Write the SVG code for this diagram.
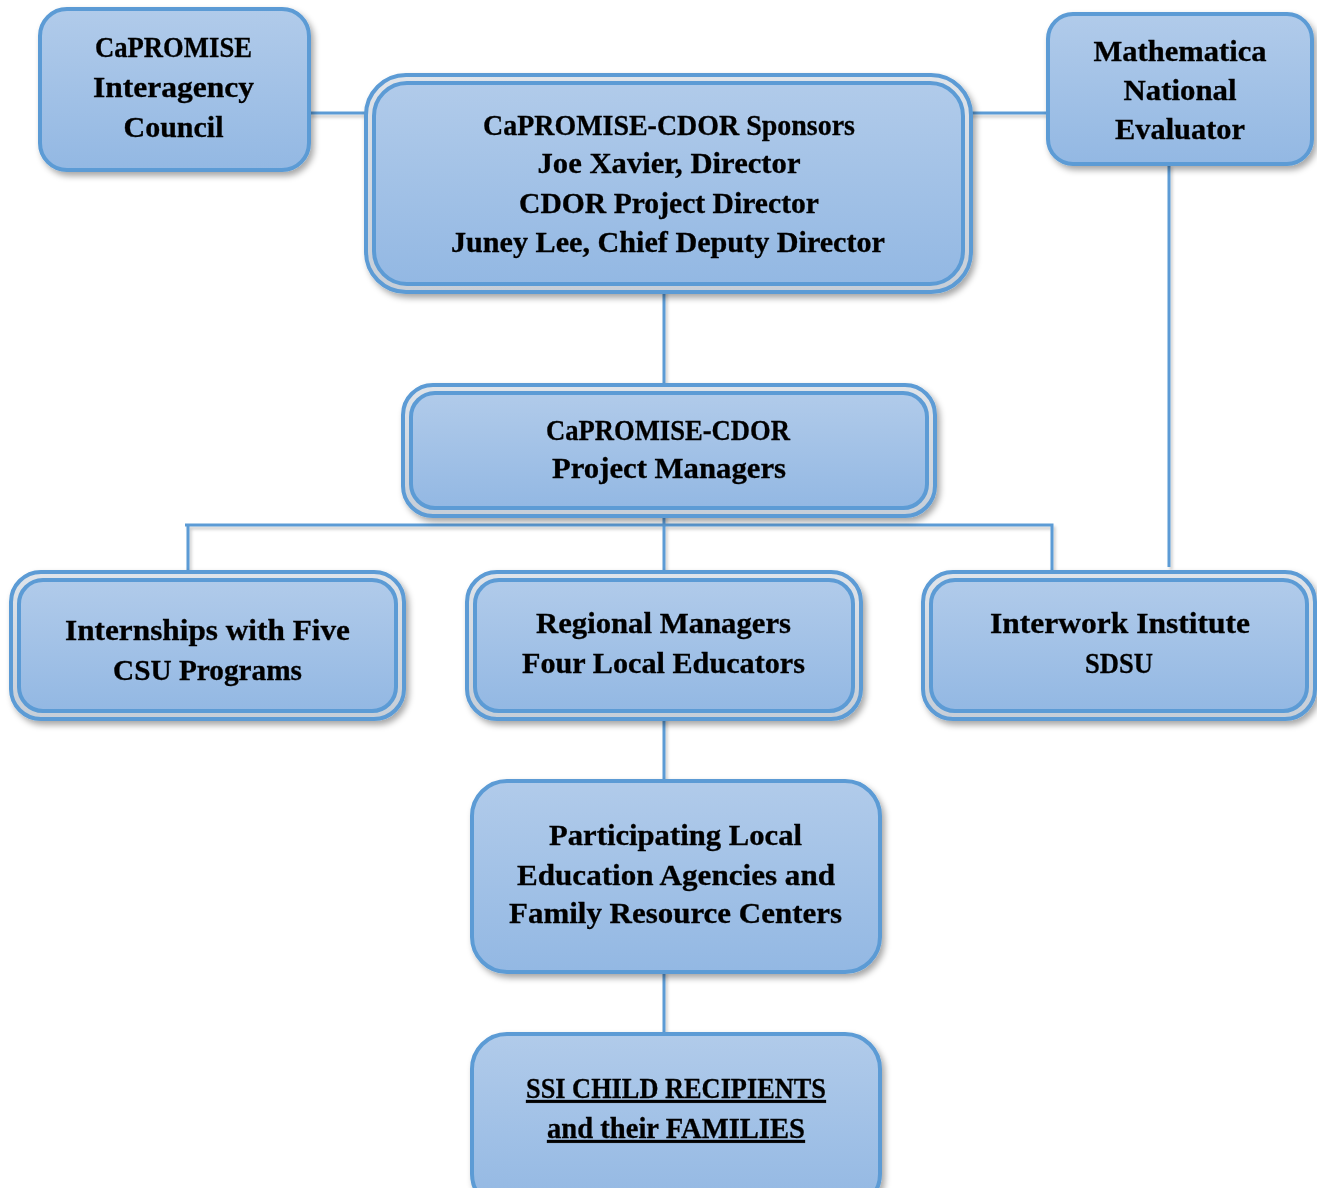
<svg xmlns="http://www.w3.org/2000/svg" width="1317" height="1188" viewBox="0 0 1317 1188">
<defs>
<linearGradient id="g" x1="0" y1="0" x2="0" y2="1">
<stop offset="0" stop-color="#b1cbea"/>
<stop offset="1" stop-color="#93b8e3"/>
</linearGradient>
<linearGradient id="gap" x1="0" y1="0" x2="0" y2="1">
<stop offset="0" stop-color="#dfe4ea"/>
<stop offset="1" stop-color="#c6ced8"/>
</linearGradient>
<filter id="sh" x="-10%" y="-10%" width="125%" height="130%">
<feDropShadow dx="3" dy="4" stdDeviation="3" flood-color="#000" flood-opacity="0.35"/>
</filter>
<filter id="lsh" x="-5%" y="-5%" width="115%" height="115%">
<feDropShadow dx="2" dy="3" stdDeviation="1.5" flood-color="#000" flood-opacity="0.2"/>
</filter>
</defs>
<style>
.box{fill:url(#g);stroke:#5b9bd5;stroke-width:4}
.outer{fill:url(#gap);stroke:#5b9bd5;stroke-width:4}
.t{font-family:"Liberation Serif","Times New Roman",serif;font-weight:bold;font-size:29px;fill:#000;stroke:#000;stroke-width:0.3;text-anchor:middle}
.c{fill:none;stroke:#5b9bd5;stroke-width:3}
</style>
<rect width="1317" height="1188" fill="#fff"/>
<g id="connectors" filter="url(#lsh)">
<path class="c" d="M309,113 H368"/>
<path class="c" d="M969,113 H1048"/>
<path class="c" d="M664,290 V387"/>
<path class="c" d="M664,514 V574"/>
<path class="c" d="M185,525 H1052 V574"/>
<path class="c" d="M188,525 V574"/>
<path class="c" d="M1169,164 V567"/>
<path class="c" d="M664,717 V782"/>
<path class="c" d="M664,971 V1035"/>
</g>
<g id="council" filter="url(#sh)">
<rect class="box" x="40" y="9" width="269" height="161" rx="27"/>
<text class="t" x="173.5" y="57" textLength="157" lengthAdjust="spacingAndGlyphs">CaPROMISE</text>
<text class="t" x="173.5" y="97" textLength="161" lengthAdjust="spacingAndGlyphs">Interagency</text>
<text class="t" x="173.5" y="137" textLength="100" lengthAdjust="spacingAndGlyphs">Council</text>
</g>
<g id="sponsors" filter="url(#sh)">
<rect class="outer" x="366" y="75" width="605" height="217" rx="40"/>
<rect class="box" x="374" y="83" width="589" height="201" rx="33"/>
<text class="t" x="669" y="135" textLength="372" lengthAdjust="spacingAndGlyphs">CaPROMISE-CDOR Sponsors</text>
<text class="t" x="669" y="173" textLength="263" lengthAdjust="spacingAndGlyphs">Joe Xavier, Director</text>
<text class="t" x="669" y="213" textLength="300" lengthAdjust="spacingAndGlyphs">CDOR Project Director</text>
<text class="t" x="668" y="252" textLength="434" lengthAdjust="spacingAndGlyphs">Juney Lee, Chief Deputy Director</text>
</g>
<g id="mathematica" filter="url(#sh)">
<rect class="box" x="1048" y="14" width="264" height="150" rx="25"/>
<text class="t" x="1180" y="61" textLength="173" lengthAdjust="spacingAndGlyphs">Mathematica</text>
<text class="t" x="1180" y="100" textLength="113" lengthAdjust="spacingAndGlyphs">National</text>
<text class="t" x="1180" y="139" textLength="130" lengthAdjust="spacingAndGlyphs">Evaluator</text>
</g>
<g id="project-managers" filter="url(#sh)">
<rect class="outer" x="403" y="385" width="532" height="131" rx="30"/>
<rect class="box" x="411" y="393" width="516" height="115" rx="24"/>
<text class="t" x="668" y="440" textLength="244" lengthAdjust="spacingAndGlyphs">CaPROMISE-CDOR</text>
<text class="t" x="669" y="478" textLength="234" lengthAdjust="spacingAndGlyphs">Project Managers</text>
</g>
<g id="internships" filter="url(#sh)">
<rect class="outer" x="11" y="572" width="393" height="147" rx="30"/>
<rect class="box" x="19" y="580" width="377" height="131" rx="24"/>
<text class="t" x="207.5" y="640" textLength="285" lengthAdjust="spacingAndGlyphs">Internships with Five</text>
<text class="t" x="207.5" y="680" textLength="189" lengthAdjust="spacingAndGlyphs">CSU Programs</text>
</g>
<g id="regional" filter="url(#sh)">
<rect class="outer" x="467" y="572" width="394" height="147" rx="30"/>
<rect class="box" x="475" y="580" width="378" height="131" rx="24"/>
<text class="t" x="663.5" y="633" textLength="255" lengthAdjust="spacingAndGlyphs">Regional Managers</text>
<text class="t" x="663.5" y="673" textLength="283" lengthAdjust="spacingAndGlyphs">Four Local Educators</text>
</g>
<g id="interwork" filter="url(#sh)">
<rect class="outer" x="923" y="572" width="392" height="147" rx="30"/>
<rect class="box" x="931" y="580" width="376" height="131" rx="24"/>
<text class="t" x="1120" y="633" textLength="260" lengthAdjust="spacingAndGlyphs">Interwork Institute</text>
<text class="t" x="1119" y="673" textLength="68" lengthAdjust="spacingAndGlyphs">SDSU</text>
</g>
<g id="participating" filter="url(#sh)">
<rect class="box" x="472" y="781" width="408" height="191" rx="35"/>
<text class="t" x="675.5" y="845" textLength="253" lengthAdjust="spacingAndGlyphs">Participating Local</text>
<text class="t" x="676" y="885" textLength="318" lengthAdjust="spacingAndGlyphs">Education Agencies and</text>
<text class="t" x="675.5" y="923" textLength="333" lengthAdjust="spacingAndGlyphs">Family Resource Centers</text>
</g>
<g id="ssi" filter="url(#sh)">
<rect class="box" x="472" y="1034" width="408" height="175" rx="35"/>
<text class="t" x="676" y="1098" textLength="300" lengthAdjust="spacingAndGlyphs" text-decoration="underline">SSI CHILD RECIPIENTS</text>
<text class="t" x="676" y="1138" textLength="258" lengthAdjust="spacingAndGlyphs" text-decoration="underline">and their FAMILIES</text>
</g>
</svg>
